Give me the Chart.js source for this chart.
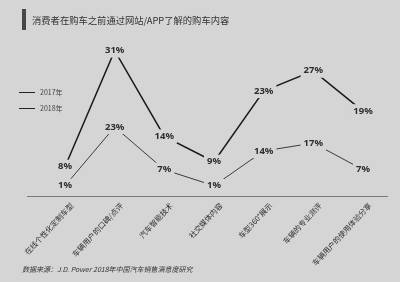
<!DOCTYPE html>
<html>
<head>
<meta charset="utf-8">
<script src="https://cdn.jsdelivr.net/npm/chart.js@4"></script>
<style>
  html, body { margin: 0; padding: 0; background: #d5d5d5; overflow: hidden; }
  canvas { display: block; }
</style>
</head>
<body>
<canvas id="buy_car_chart" width="400" height="282"></canvas>
<script>
Chart.defaults.font.family = "'Noto Sans CJK SC', 'Noto Sans', sans-serif";

// categories (x axis)
const categories = [
  '在线个性化定制车型',
  '车辆用户的口碑/点评',
  '汽车智能技术',
  '社交媒体内容',
  '车型360°展示',
  '车辆的专业测评',
  '车辆用户的使用体验分享',
];
// values in percent
const values2018 = [8, 31, 14, 9, 23, 27, 19];
const values2017 = [1, 23, 7, 1, 14, 17, 7];
const seriesNames = ['2017年', '2018年'];

const titleText = '消费者在购车之前通过网站/APP了解的购车内容';
const sourceText = '数据来源：J.D. Power 2018年中国汽车销售满意度研究';

const BG = '#d5d5d5';

// labels on each point, with a background box that cuts the line
const pointLabels = {
  id: 'pointLabels',
  afterDatasetsDraw(chart) {
    const ctx = chart.ctx;
    ctx.save();
    ctx.font = "bold 9.5px 'Noto Sans', sans-serif";
    ctx.textAlign = 'center';
    ctx.textBaseline = 'middle';
    chart.data.datasets.forEach((ds, i) => {
      chart.getDatasetMeta(i).data.forEach((pt, j) => {
        const txt = ds.data[j] + '%';
        const w = ctx.measureText(txt).width;
        ctx.fillStyle = BG;
        ctx.fillRect(pt.x - w / 2 - 3, pt.y - 7, w + 6, 14);
        ctx.fillStyle = '#2e2e2e';
        ctx.fillText(txt, pt.x, pt.y);
      });
    });
    ctx.restore();
  },
};

// title bar, legend, base line, source note
const decorations = {
  id: 'decorations',
  beforeDraw(chart) {
    const ctx = chart.ctx;
    ctx.save();
    ctx.fillStyle = BG;
    ctx.fillRect(0, 0, chart.width, chart.height);
    // title
    ctx.fillStyle = '#474747';
    ctx.fillRect(22, 9, 4, 21);
    ctx.fillStyle = '#333';
    ctx.font = "9.3px 'Noto Sans CJK SC'";
    ctx.textBaseline = 'middle';
    ctx.fillText(titleText, 32, 20);
    // base line
    ctx.strokeStyle = '#7a7a7a';
    ctx.lineWidth = 1;
    ctx.beginPath();
    ctx.moveTo(27, 196.5);
    ctx.lineTo(388, 196.5);
    ctx.stroke();
    // legend
    ctx.font = "7px 'Noto Sans CJK SC'";
    seriesNames.forEach((name, i) => {
      const y = 92 + i * 16;
      ctx.strokeStyle = '#222';
      ctx.beginPath();
      ctx.moveTo(19, y + 0.5);
      ctx.lineTo(35, y + 0.5);
      ctx.stroke();
      ctx.fillStyle = '#444';
      ctx.fillText(name, 40, y);
    });
    // source
    ctx.font = "italic 7px 'Noto Sans CJK SC'";
    ctx.fillStyle = '#333';
    ctx.fillText(sourceText, 22, 269);
    ctx.restore();
  },
};

const ctxLINE_car = document.getElementById('buy_car_chart');
const chart_car = new Chart(ctxLINE_car, {
  type: 'line',
  data: {
    labels: categories,
    datasets: [
      {
        label: seriesNames[1],
        data: values2018,
        yAxisID: 'y',
        borderColor: '#1a1a1a',
        borderWidth: 1.5,
        pointRadius: 0,
        tension: 0,
      },
      {
        label: seriesNames[0],
        data: values2017,
        yAxisID: 'y1',
        borderColor: '#3c3c3c',
        borderWidth: 1,
        pointRadius: 0,
        tension: 0,
      },
    ],
  },
  options: {
    responsive: false,
    animation: false,
    devicePixelRatio: 1,
    layout: { padding: { left: 65, right: 37, top: 40, bottom: 0 } },
    scales: {
      x: {
        offset: false,
        grid: { display: false, drawTicks: false },
        border: { display: false },
        ticks: {
          minRotation: 47,
          maxRotation: 47,
          padding: 5,
          labelOffset: 7,
          color: '#2e2e2e',
          font: { size: 7.5 },
        },
        afterFit(scale) { scale.height = 86; },
      },
      y: { display: false, min: 2.2, max: 33.1 },
      y1: { display: false, min: -2.85, max: 55.6 },
    },
    plugins: {
      legend: { display: false },
      tooltip: { enabled: false },
    },
  },
  plugins: [decorations, pointLabels],
});
</script>
</body>
</html>
